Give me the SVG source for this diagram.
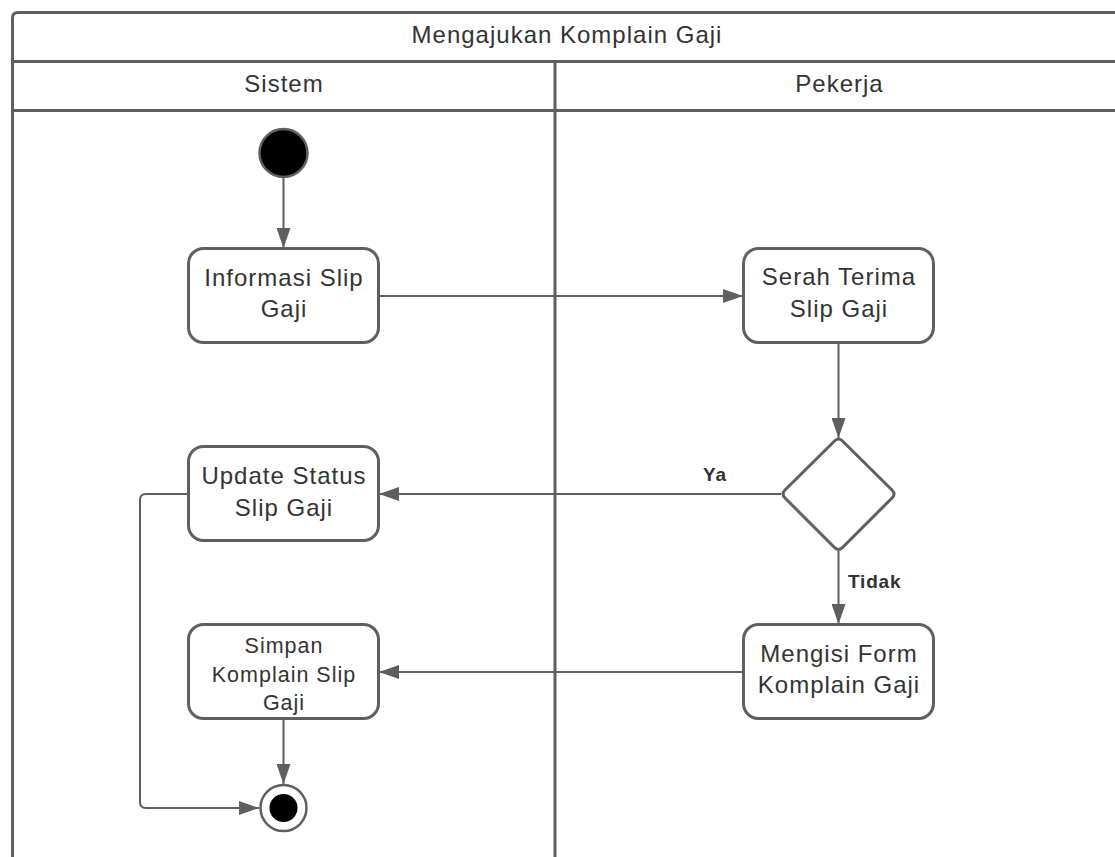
<svg xmlns="http://www.w3.org/2000/svg" width="1115" height="857" viewBox="0 0 1115 857">
  <style>
    .frame { fill: none; stroke: #5f5f5f; stroke-width: 3; }
    .node { fill: #ffffff; stroke: #5f5f5f; stroke-width: 3; }
    .edge { fill: none; stroke: #5f5f5f; stroke-width: 2; }
    .lbl { font-family: "Liberation Sans", Arial, sans-serif; font-size: 24px; letter-spacing: 1px; fill: #333333; text-anchor: middle; }
    .small { font-size: 21.5px; }
    .guard { font-family: "Liberation Sans", Arial, sans-serif; font-size: 19px; font-weight: bold; letter-spacing: 0.8px; fill: #333333; }
  </style>
  <defs>
    <marker id="arrow" viewBox="0 0 20 14" refX="20" refY="7" markerWidth="20" markerHeight="14" markerUnits="userSpaceOnUse" orient="auto">
      <path d="M0,0 L20,7 L0,14 Z" fill="#5f5f5f"/>
    </marker>
  </defs>

  <rect width="1115" height="857" fill="#ffffff"/>

  <!-- swimlane frame -->
  <g id="pool">
    <path class="frame" d="M12.5,870 L12.5,18 Q12.5,12.5 18,12.5 L1130,12.5"/>
    <line class="frame" x1="12.5" y1="61.5" x2="1130" y2="61.5"/>
    <line class="frame" x1="12.5" y1="110.5" x2="1130" y2="110.5"/>
    <line class="frame" x1="555" y1="61.5" x2="555" y2="870"/>
    <text class="lbl" x="567" y="42.5">Mengajukan Komplain Gaji</text>
    <text class="lbl" x="284" y="92">Sistem</text>
    <text class="lbl" x="839.5" y="92">Pekerja</text>
  </g>

  <!-- connectors -->
  <g id="connectors">
    <line class="edge" x1="283.5" y1="177" x2="283.5" y2="248" marker-end="url(#arrow)"/>
    <line class="edge" x1="379" y1="296" x2="743" y2="296" marker-end="url(#arrow)"/>
    <line class="edge" x1="838.5" y1="343" x2="838.5" y2="438" marker-end="url(#arrow)"/>
    <line class="edge" x1="781" y1="494" x2="379" y2="494" marker-end="url(#arrow)"/>
    <line class="edge" x1="838.5" y1="551" x2="838.5" y2="624" marker-end="url(#arrow)"/>
    <line class="edge" x1="743" y1="672" x2="379" y2="672" marker-end="url(#arrow)"/>
    <line class="edge" x1="283.5" y1="718" x2="283.5" y2="784" marker-end="url(#arrow)"/>
    <path class="edge" d="M188,494 L146,494 Q140,494 140,500 L140,802 Q140,808 146,808 L259,808" marker-end="url(#arrow)"/>
    <text class="guard" x="703" y="481">Ya</text>
    <text class="guard" x="848" y="588">Tidak</text>
  </g>

  <g id="start">
    <circle cx="283.5" cy="153" r="24" fill="#000000" stroke="#5f5f5f" stroke-width="2.5"/>
  </g>

  <g id="informasi-slip-gaji">
    <rect class="node" x="188.5" y="248.5" width="190" height="94" rx="15"/>
    <text class="lbl" x="284" y="285.5">Informasi Slip</text>
    <text class="lbl" x="284" y="316.5">Gaji</text>
  </g>

  <g id="serah-terima-slip-gaji">
    <rect class="node" x="743.5" y="248.5" width="190" height="94" rx="15"/>
    <text class="lbl" x="839" y="285">Serah Terima</text>
    <text class="lbl" x="839" y="316.5">Slip Gaji</text>
  </g>

  <g id="decision">
    <path class="node" d="M834.5,441 Q838.5,437 842.5,441 L892,490 Q896,494 892,498 L842.5,547.5 Q838.5,551.5 834.5,547.5 L785,498 Q781,494 785,490 Z"/>
  </g>

  <g id="update-status-slip-gaji">
    <rect class="node" x="188.5" y="446.5" width="190" height="94" rx="15"/>
    <text class="lbl" x="284" y="484">Update Status</text>
    <text class="lbl" x="284" y="515.5">Slip Gaji</text>
  </g>

  <g id="mengisi-form-komplain-gaji">
    <rect class="node" x="743.5" y="624.5" width="190" height="94" rx="15"/>
    <text class="lbl" x="839" y="661.5">Mengisi Form</text>
    <text class="lbl" x="839" y="692.5">Komplain Gaji</text>
  </g>

  <g id="simpan-komplain-slip-gaji">
    <rect class="node" x="188.5" y="624.5" width="190" height="94" rx="15"/>
    <text class="lbl small" x="284" y="652.5">Simpan</text>
    <text class="lbl small" x="284" y="681.5">Komplain Slip</text>
    <text class="lbl small" x="284" y="709.5">Gaji</text>
  </g>

  <g id="end">
    <circle cx="283.5" cy="808" r="23" fill="#ffffff" stroke="#5f5f5f" stroke-width="2.5"/>
    <circle cx="283.5" cy="808" r="14" fill="#000000"/>
  </g>
</svg>
